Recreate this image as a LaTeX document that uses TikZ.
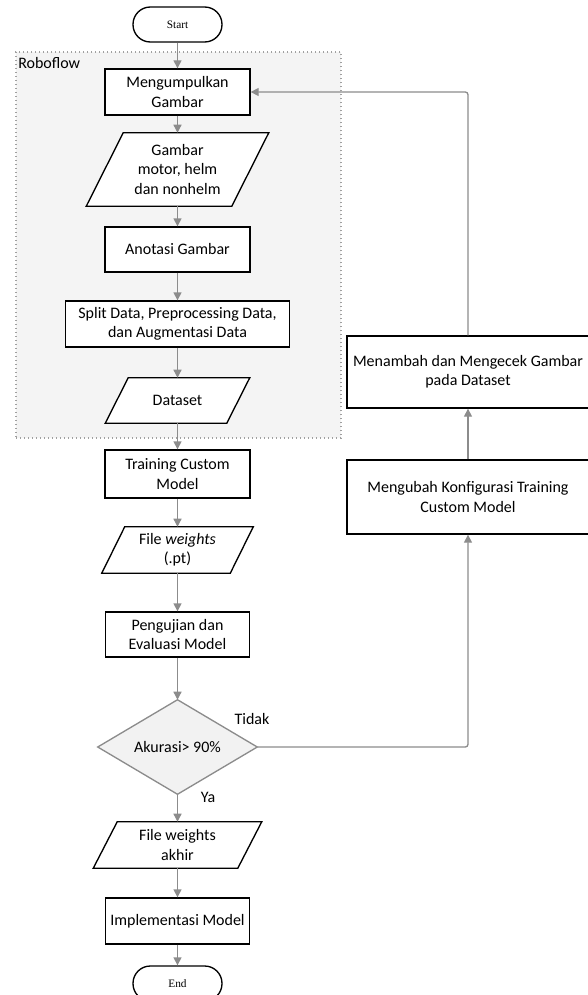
\documentclass[tikz,border=0pt]{standalone}
\usepackage{fontspec}
\setmainfont{Carlito}
\newfontfamily\serifterm{Liberation Serif}
\usetikzlibrary{arrows.meta,calc}
\pgfdeclarelayer{bg}
\pgfdeclarelayer{mid}
\pgfsetlayers{bg,mid,main}
\definecolor{linegray}{HTML}{8C8C8C}
\definecolor{framefill}{HTML}{F4F4F4}
\definecolor{framedraw}{HTML}{A0A0A0}
\definecolor{decfill}{HTML}{F2F2F2}
\newcommand\drawpara[2]{%
  \begin{pgfonlayer}{mid}
  \draw[line width=1pt, fill=white] (#1.south west) -- ($(#1.north west)+(#2,0)$) -- (#1.north east) -- ($(#1.south east)-(#2,0)$) -- cycle;
  \end{pgfonlayer}}
\tikzset{
  txt/.style={font=\fontsize{12}{14.5}\selectfont},
  proc/.style={txt, draw=black, line width=1pt, fill=white, align=center, inner sep=2pt},
  io/.style={txt, align=center, inner sep=0pt},
  term/.style={draw=black, line width=1pt, fill=white, rounded corners=13pt,
    font=\serifterm\fontsize{8.5}{9}\selectfont, minimum width=66.75pt, minimum height=26.25pt},
  arr/.style={draw=linegray, line width=1pt, rounded corners=2pt, -{Triangle[length=6pt,width=6pt]}},
  frame/.style={draw=framedraw, fill=framefill, line width=0.8pt, dash pattern=on 0.8pt off 2.2pt}
}
\begin{document}
\begin{tikzpicture}[x=0.75pt,y=-0.75pt]
\useasboundingbox (0,0) rectangle (587,995);

% frame
\begin{pgfonlayer}{bg}
\node[frame, minimum width=243.75pt, minimum height=289.5pt] (roboflow) at (178.5,245) {};
\end{pgfonlayer}
\node[txt, anchor=west, inner sep=0pt] (rflabel) at (18,63) {Roboflow};

% main column
\node[term] (start) at (177.5,24.5) {Start};
\node[proc, minimum width=108.75pt, minimum height=34.5pt] (collect) at (177.5,92) {Mengumpulkan\\Gambar};
\node[io, minimum width=136.5pt, minimum height=54.75pt] (images) at (177.5,169.5) {Gambar\\motor, helm\\dan nonhelm};
\drawpara{images}{37}
\node[proc, minimum width=108.75pt, minimum height=33.75pt] (annot) at (177.5,249.5) {Anotasi Gambar};
\node[proc, minimum width=168pt, minimum height=34.5pt] (split) at (177.5,324) {Split Data, Preprocessing Data,\\dan Augmentasi Data};
\node[io, minimum width=108pt, minimum height=33.75pt] (dataset) at (177.5,400.5) {Dataset};
\drawpara{dataset}{23}
\node[proc, minimum width=108.75pt, minimum height=36pt] (train) at (177.5,474) {Training Custom\\Model};
\node[io, minimum width=113.25pt, minimum height=34.5pt] (weights) at (177.5,550) {File \textit{weights}\\(.pt)};
\drawpara{weights}{23}
\node[proc, minimum width=108pt, minimum height=33.75pt] (test) at (177.5,634.5) {Pengujian dan\\Evaluasi Model};
\node[io, minimum width=119.25pt, minimum height=70.5pt] (dec) at (177.5,747) {Akurasi> 90\%};
\begin{pgfonlayer}{mid}
\draw[draw=linegray, line width=1pt, fill=decfill] (dec.north) -- (dec.east) -- (dec.south) -- (dec.west) -- cycle;
\end{pgfonlayer}
\node[io, minimum width=126pt, minimum height=34.5pt] (final) at (177.5,845) {File weights\\akhir};
\drawpara{final}{24}
\node[proc, minimum width=108pt, minimum height=34.5pt] (impl) at (177.5,921) {Implementasi Model};
\node[term] (end) at (177.5,983.5) {End};

% right column
\node[proc, minimum width=181.5pt, minimum height=54pt] (add) at (468,372) {Menambah dan Mengecek Gambar\\pada Dataset};
\node[proc, minimum width=181.5pt, minimum height=55.5pt] (config) at (468,497) {Mengubah Konfigurasi Training\\Custom Model};

% labels
\node[txt, inner sep=0pt] (tidak) at (252,719) {Tidak};
\node[txt, inner sep=0pt] (ya) at (208,797) {Ya};

% connectors
\draw[arr] (start.south) -- (collect.north);
\draw[arr] (collect.south) -- (images.north);
\draw[arr] (images.south) -- (annot.north);
\draw[arr] (annot.south) -- (split.north);
\draw[arr] (split.south) -- (dataset.north);
\draw[arr] (dataset.south) -- (train.north);
\draw[arr] (train.south) -- (weights.north);
\draw[arr] (weights.south) -- (test.north);
\draw[arr] (test.south) -- (dec.north);
\draw[arr] (dec.south) -- (final.north);
\draw[arr] (final.south) -- (impl.north);
\draw[arr] (impl.south) -- (end.north);
\draw[arr] (dec.east) -| (config.south);
\draw[arr] (config.north) -- (add.south);
\draw[arr] (add.north) |- (collect.east);
\end{tikzpicture}
\end{document}
